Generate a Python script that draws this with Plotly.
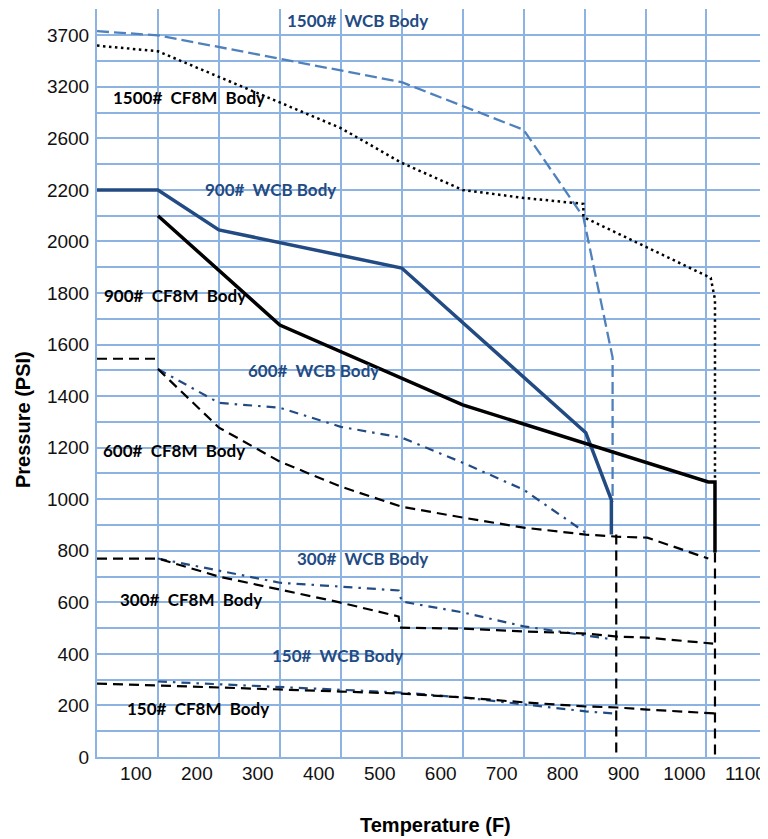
import numpy as np
import plotly.graph_objects as go

# ---------------- data (temperature F, pressure PSI) ----------------
wcb1500_t = [0, 100, 500, 700, 798, 846, 846]
wcb1500_p = [3740, 3700, 3245, 2700, 2095, 1550, 990]

cf8m1500_t = [0, 100, 400, 500, 600, 700, 798, 798, 1007, 1014, 1014]
cf8m1500_p = [3600, 3545, 2720, 2410, 2200, 2169, 2146, 2095, 1859, 1775, 1076]

wcb900_t = [0, 100, 200, 500, 802, 844, 844]
wcb900_p = [2200, 2200, 2045, 1897, 1258, 998, 863]

cf8m900_t = [100, 300, 600, 1003, 1014, 1014]
cf8m900_p = [2100, 1676, 1366, 1067, 1067, 793]

wcb600_t = [100, 200, 300, 400, 500, 600, 700, 802]
wcb600_p = [1505, 1374, 1355, 1281, 1239, 1142, 1037, 870]

cf8m600_t = [0, 100, None, 100, 200, 300, 400, 500, 600, 700, 802, 852, 903, 1003]
cf8m600_p = [1545, 1545, None, 1505, 1278, 1146, 1049, 971, 929, 890, 863, 855, 851, 770]

wcb300_t = [100, 200, 300, 400, 495, 500, 600, 700, 802, 847]
wcb300_p = [770, 723, 676, 661, 646, 603, 561, 507, 472, 456]

cf8m300_t = [0, 100, 200, 300, 400, 495, 497, 600, 700, 802, 854, 903, 1011]
cf8m300_p = [770, 770, 700, 649, 599, 545, 502, 498, 487, 479, 467, 463, 440]

wcb150_t = [100, 200, 300, 400, 500, 600, 700, 802, 847]
wcb150_p = [293, 282, 273, 262, 250, 231, 204, 177, 169]

cf8m150_t = [0, 100, 200, 300, 400, 500, 600, 700, 802, 854, 903, 1014]
cf8m150_p = [285, 278, 270, 262, 254, 246, 231, 212, 196, 192, 184, 169]

limit_wcb_t = [852, 852]
limit_wcb_p = [863, 0]
limit_cf8m_t = [1014, 1014]
limit_cf8m_p = [793, 0]

x_tick_vals = [100, 200, 300, 400, 500, 600, 700, 800, 900, 1000, 1100]
x_tick_text = ["100", "200", "300", "400", "500", "600", "700", "800", "900", "1000", "1100"]
y_tick_psi = [0, 200, 400, 600, 800, 1000, 1200, 1400, 1600, 1800, 2000, 2200, 2600, 3200, 3700]

# broken (non-linear) pressure scale used by the chart
Y_BREAK_PSI = [0, 2200, 2600, 3200, 3700, 4200]
Y_BREAK_POS = [0, 2200, 2400, 2600, 2800, 3000]


def ypos(v):
    return None if v is None else float(np.interp(v, Y_BREAK_PSI, Y_BREAK_POS))


NAVY = "#234B83"
LIGHT = "#4F81BD"
BLACK = "#000000"
GRID = "#8DB3E2"

fig = go.Figure()


def add(t, p, color, width, dash):
    fig.add_trace(go.Scatter(
        x=t, y=[ypos(v) for v in p], mode="lines",
        line=dict(color=color, width=width, dash=dash),
        showlegend=False, hoverinfo="skip", connectgaps=False))


add(wcb1500_t, wcb1500_p, LIGHT, 2.3, "12px,5px")
add(cf8m1500_t, cf8m1500_p, BLACK, 2.5, "2.5px,3.5px")
add(wcb900_t, wcb900_p, NAVY, 3.5, "solid")
add(cf8m900_t, cf8m900_p, BLACK, 3.5, "solid")
add(wcb600_t, wcb600_p, NAVY, 2.2, "9px,6px,2.5px,6px")
add(cf8m600_t, cf8m600_p, BLACK, 2.2, "10px,6px")
add(wcb300_t, wcb300_p, NAVY, 2.2, "9px,6px,2.5px,6px")
add(cf8m300_t, cf8m300_p, BLACK, 2.2, "10px,6px")
add(wcb150_t, wcb150_p, NAVY, 2.2, "9px,6px,2.5px,6px")
add(cf8m150_t, cf8m150_p, BLACK, 2.2, "10px,6px")
add(limit_wcb_t, limit_wcb_p, BLACK, 2.2, "10px,6px")
add(limit_cf8m_t, limit_cf8m_p, BLACK, 2.2, "10px,6px")

# y ticks: a gridline every 100 position units, labels only on the chart's values
grid_pos = list(range(0, 3000, 100))
label_at = {int(round(ypos(v))): str(v) for v in y_tick_psi}
y_tick_text = [label_at.get(p, "") for p in grid_pos]

labels = [
    ("1500#\u00a0 WCB Body", 428, 3840, NAVY),
    ("1500#\u00a0 CF8M\u00a0 Body", 151, 3080, BLACK),
    ("900#\u00a0 WCB Body", 284, 2200, NAVY),
    ("900#\u00a0 CF8M\u00a0 Body", 128, 1789, BLACK),
    ("600#\u00a0 WCB Body", 356, 1499, NAVY),
    ("600#\u00a0 CF8M\u00a0 Body", 127, 1188, BLACK),
    ("300#\u00a0 WCB Body", 435, 770, NAVY),
    ("300#\u00a0 CF8M\u00a0 Body", 155, 611, BLACK),
    ("150#\u00a0 WCB Body", 394, 394, NAVY),
    ("150#\u00a0 CF8M\u00a0 Body", 166, 188, BLACK),
]
for txt, xv, pv, col in labels:
    fig.add_annotation(x=xv, y=ypos(pv), text="<b>" + txt + "</b>", showarrow=False,
                       font=dict(family="Lato, Open Sans, sans-serif", size=17, color=col),
                       xanchor="center", yanchor="middle")

fig.add_annotation(x=(23 - 97) / 671, y=(757 - 420) / 748, xref="paper", yref="paper",
                   text="<b>Pressure (PSI)</b>", textangle=-90, showarrow=False,
                   font=dict(family="Liberation Sans, Arial", size=20, color="#000"),
                   xanchor="center", yanchor="middle")
fig.add_annotation(x=(435 - 97) / 671, y=(757 - 825) / 748, xref="paper", yref="paper",
                   text="<b>Temperature (F)</b>", showarrow=False,
                   font=dict(family="Liberation Sans, Arial", size=20, color="#000"),
                   xanchor="center", yanchor="middle")

# the page adds an 8px body margin, so the figure is 8px smaller and shifted
fig.update_layout(
    width=760, height=831,
    margin=dict(l=89, r=0, t=1, b=82, autoexpand=False),
    paper_bgcolor="white", plot_bgcolor="white",
    font=dict(family="Liberation Sans, Arial", size=19, color="#111"),
    xaxis=dict(range=[0, 1101], tickvals=x_tick_vals, ticktext=x_tick_text,
               showgrid=True, gridcolor=GRID, gridwidth=2,
               showline=True, linecolor=GRID, linewidth=2, automargin=False,
               zeroline=False, ticks="", ticklabelshift=-22, ticklabelstandoff=-2,
               ticklabeloverflow="allow"),
    yaxis=dict(range=[0, 2902], tickvals=grid_pos, ticktext=y_tick_text,
               showgrid=True, gridcolor=GRID, gridwidth=2,
               showline=True, linecolor=GRID, linewidth=2, automargin=False,
               zeroline=False, ticks="", ticklabelstandoff=2),
)

fig.write_html("out.html")
